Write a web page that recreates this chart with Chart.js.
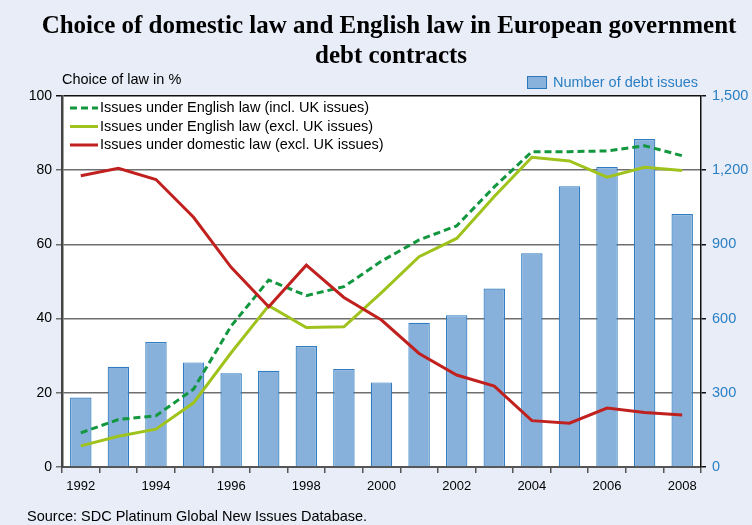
<!DOCTYPE html>
<html>
<head>
<meta charset="utf-8">
<script src="https://cdn.jsdelivr.net/npm/chart.js@4.4.1/dist/chart.umd.min.js"></script>
<style>
  html, body { margin: 0; padding: 0; background: #e8edf8; }
  #wrap { width: 752px; height: 525px; }
</style>
</head>
<body>
<div id="wrap"><canvas id="myChart" width="752" height="525"></canvas></div>
<script>
// data
const years = ['1992','1993','1994','1995','1996','1997','1998','1999','2000',
               '2001','2002','2003','2004','2005','2006','2007','2008'];
const debtIssues = [281, 405, 505, 423, 379, 389, 489, 396, 342,
                    583, 614, 722, 864, 1135, 1213, 1326, 1023];
const englishInclUK = [9.2, 12.8, 13.8, 21.0, 38.0, 50.4, 46.2, 48.6, 55.5,
                       61.2, 65.0, 75.5, 85.0, 85.0, 85.2, 86.6, 83.9];
const englishExclUK = [5.7, 8.3, 10.2, 17.3, 30.8, 43.5, 37.6, 37.8, 47.0,
                       56.7, 61.6, 72.9, 83.5, 82.5, 78.1, 80.8, 79.9];
const domesticExclUK = [78.5, 80.5, 77.5, 67.3, 53.8, 43.2, 54.4, 45.7, 39.6,
                        30.6, 24.8, 21.8, 12.5, 11.8, 15.9, 14.7, 14.0];
const leftTicks = [0, 20, 40, 60, 80, 100];
const rightTicks = [0, 300, 600, 900, 1200, 1500];

const FONT = '"Liberation Sans", Arial, sans-serif';
const BLUE_TXT = '#2a7fc4';

const backdrop = {
  id: 'backdrop',
  beforeDraw(chart) {
    const ctx = chart.ctx, a = chart.chartArea;
    ctx.save();
    ctx.fillStyle = '#e8edf8';
    ctx.fillRect(0, 0, chart.width, chart.height);
    ctx.fillStyle = '#ffffff';
    ctx.fillRect(a.left, a.top, a.right - a.left, a.bottom - a.top);
    ctx.restore();
  },
  afterDraw(chart) {
    const ctx = chart.ctx, a = chart.chartArea;
    ctx.save();
    // title
    ctx.fillStyle = '#000';
    ctx.textAlign = 'center';
    ctx.textBaseline = 'middle';
    ctx.font = 'bold 25px "Liberation Serif", "Times New Roman", serif';
    ctx.fillText('Choice of domestic law and English law in European government', 389, 27);
    ctx.fillText('debt contracts', 391, 57);
    // axis title
    ctx.textAlign = 'left';
    ctx.font = '14.5px ' + FONT;
    ctx.fillText('Choice of law in %', 62, 80);
    // bar legend
    ctx.fillStyle = '#88b2dc';
    ctx.fillRect(527, 76, 19, 12);
    ctx.strokeStyle = '#2a78c0';
    ctx.lineWidth = 1;
    ctx.strokeRect(527.5, 76.5, 19, 12);
    ctx.fillStyle = BLUE_TXT;
    ctx.fillText('Number of debt issues', 553, 83);
    // line legend inside plot
    const lines = chart.data.datasets.filter(d => d.type === 'line');
    lines.forEach((d, i) => {
      const y = 108 + i * 18.5;
      ctx.beginPath();
      ctx.setLineDash(d.borderDash || []);
      ctx.strokeStyle = d.borderColor;
      ctx.lineWidth = 3;
      ctx.moveTo(a.left + 8, y);
      ctx.lineTo(a.left + 36, y);
      ctx.stroke();
      ctx.setLineDash([]);
      ctx.fillStyle = '#000';
      ctx.fillText(d.label, a.left + 38, y);
    });
    // source
    ctx.fillStyle = '#000';
    ctx.fillText('Source: SDC Platinum Global New Issues Database.', 27, 517);
    ctx.restore();
  }
};

const ctx = document.getElementById('myChart');
const myChart = new Chart(ctx, {
  type: 'bar',
  data: {
    labels: years,
    datasets: [{
      type: 'line',
      label: 'Issues under English law (incl. UK issues)',
      data: englishInclUK,
      yAxisID: 'y',
      borderColor: '#12973f',
      borderDash: [7, 4],
      borderWidth: 3,
      pointRadius: 0,
      tension: 0,
      order: 3
    }, {
      type: 'line',
      label: 'Issues under English law (excl. UK issues)',
      data: englishExclUK,
      yAxisID: 'y',
      borderColor: '#9fc31c',
      borderWidth: 3,
      pointRadius: 0,
      tension: 0,
      order: 2
    }, {
      type: 'line',
      label: 'Issues under domestic law (excl. UK issues)',
      data: domesticExclUK,
      yAxisID: 'y',
      borderColor: '#c0211f',
      borderWidth: 3,
      pointRadius: 0,
      tension: 0,
      order: 1
    }, {
      type: 'bar',
      label: 'Number of debt issues',
      data: debtIssues,
      yAxisID: 'y1',
      backgroundColor: '#87b1db',
      borderColor: '#2f7cc2',
      borderWidth: 1.2,
      borderSkipped: 'bottom',
      barPercentage: 0.57,
      categoryPercentage: 1.0,
      order: 4
    }]
  },
  options: {
    responsive: false,
    animation: false,
    devicePixelRatio: 1,
    layout: { padding: { top: 96, left: 8, right: 0, bottom: 20 } },
    plugins: {
      legend: { display: false },
      title: { display: false },
      tooltip: { enabled: false }
    },
    scales: {
      x: {
        offset: true,
        grid: {
          offset: true,
          drawOnChartArea: false,
          tickLength: 6,
          color: '#555',
          lineWidth: 1.5
        },
        border: { color: '#555', width: 2 },
        ticks: {
          autoSkip: false,
          maxRotation: 0,
          padding: 6,
          color: '#000',
          font: { family: FONT, size: 13 },
          callback: function(value, index) {
            return index % 2 === 0 ? this.getLabelForValue(value) : '';
          }
        },
        afterFit(scale) { scale.height = 38; }
      },
      y: {
        position: 'left',
        min: 0, max: 100,
        afterBuildTicks(scale) { scale.ticks = leftTicks.map(v => ({ value: v })); },
        grid: {
          color: ctx => ctx.tick && ctx.tick.value === 100 ? '#111' : '#6e6e6e',
          lineWidth: 1.5,
          tickLength: 6
        },
        border: { color: '#444', width: 2.5 },
        ticks: {
          padding: 4,
          color: '#000',
          font: { family: FONT, size: 14 }
        },
        afterFit(scale) { scale.width = 54; }
      },
      y1: {
        position: 'right',
        min: 0, max: 1500,
        afterBuildTicks(scale) { scale.ticks = rightTicks.map(v => ({ value: v })); },
        grid: { drawOnChartArea: false, tickLength: 5, color: '#111', lineWidth: 1.5 },
        border: { color: '#111', width: 1.5 },
        ticks: {
          padding: 6,
          color: BLUE_TXT,
          font: { family: FONT, size: 14.5 },
          callback: v => v.toLocaleString('en-US')
        },
        afterFit(scale) { scale.width = 51; }
      }
    }
  },
  plugins: [backdrop]
});
</script>
</body>
</html>
